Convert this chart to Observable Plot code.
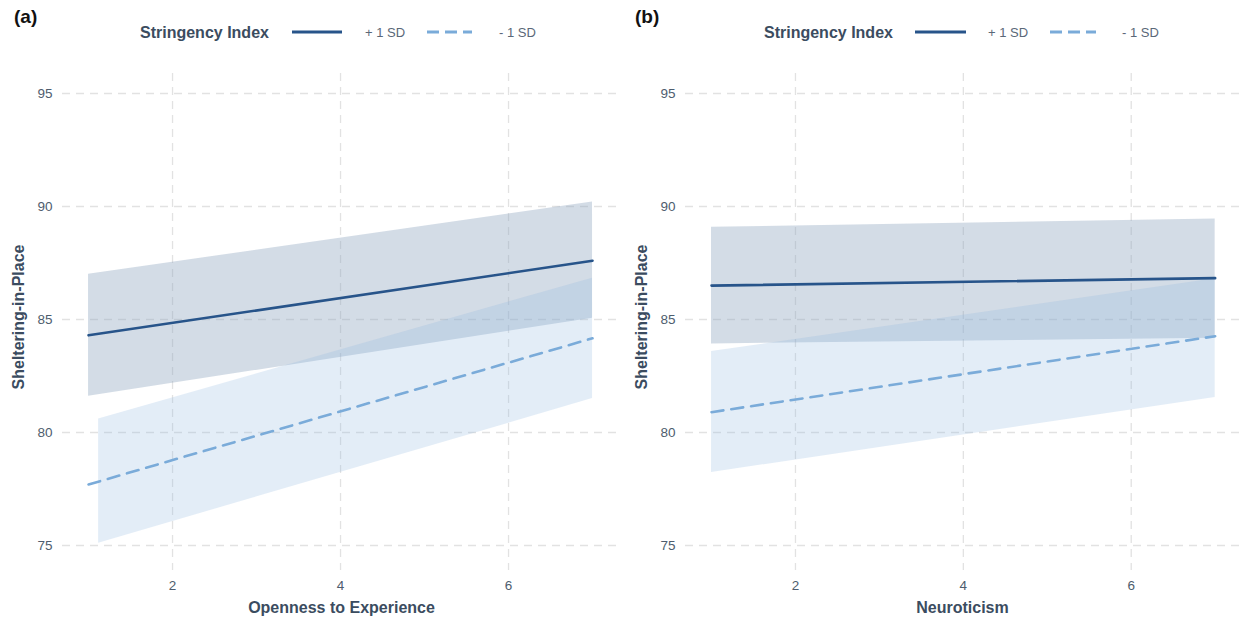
<!DOCTYPE html>
<html>
<head>
<meta charset="utf-8">
<script src="https://cdn.jsdelivr.net/npm/d3@7"></script>
<script src="https://cdn.jsdelivr.net/npm/@observablehq/plot@0.6"></script>
<style>
  html, body { margin: 0; padding: 0; background: #fff; }
  #wrap { position: relative; width: 1239px; height: 617px; font-family: "Liberation Sans", Arial, sans-serif; overflow: hidden; }
  .panel { position: absolute; top: 0; height: 617px; }
  .tag { position: absolute; left: 14px; top: 6px; font-weight: bold; font-size: 19px; color: #111; }
  .legend { position: absolute; left: 0; top: 16px; }
  .plot { position: absolute; left: 0; top: 60px; }
</style>
</head>
<body>
<div id="wrap"></div>
<script>
// ---- data ----
const panelTags = ["(a)", "(b)"];
const xTitles = ["Openness to Experience", "Neuroticism"];
const yTitle = "Sheltering-in-Place";
const legendTitle = "Stringency Index";
const seriesNames = ["+ 1 SD", "- 1 SD"];
const xTicks = [2, 4, 6];
const yTicks = [75, 80, 85, 90, 95];

// Panel (a): Openness to Experience
const aFitX = [1, 7];
const aHighFit = [84.3, 87.6];
const aLowFit = [77.7, 84.17];
const aHighBandX = [1, 7];
const aHighBandLo = [81.6, 85.05];
const aHighBandHi = [87.0, 90.2];
const aLowBandX = [1.12, 7];
const aLowBandLo = [75.1, 81.5];
const aLowBandHi = [80.6, 86.83];

// Panel (b): Neuroticism
const bFitX = [1, 7];
const bHighFit = [86.5, 86.83];
const bLowFit = [80.9, 84.26];
const bHighBandX = [1, 7];
const bHighBandLo = [83.92, 84.17];
const bHighBandHi = [89.08, 89.45];
const bLowBandX = [1, 7];
const bLowBandLo = [78.23, 81.55];
const bLowBandHi = [83.58, 86.8];

// ---- styles ----
const highColor = "#27548a";
const lowColor = "#7aabd9";
const tickColor = "#4e5d6e";
const titleColor = "#3b4c60";
const gridColor = "#e2e2e2";

function rows(x, a, b) { return x.map((v, i) => ({x: v, lo: a[i], hi: b ? b[i] : undefined})); }

function makePlot(cfg) {
  return Plot.plot({
    width: cfg.width,
    height: 557,
    marginTop: 13,
    marginBottom: 47,
    marginLeft: cfg.ml,
    marginRight: 0,
    style: {fontFamily: "'Liberation Sans', Arial, sans-serif", fontSize: "13px", color: tickColor, background: "transparent", overflow: "visible"},
    x: {domain: cfg.xdomain, label: null},
    y: {domain: [73.894, 95.885], label: null},
    marks: [
      Plot.gridX(xTicks, {stroke: gridColor, strokeOpacity: 1, strokeWidth: 1.3, strokeDasharray: "8,6"}),
      Plot.gridY(yTicks, {stroke: gridColor, strokeOpacity: 1, strokeWidth: 1.3, strokeDasharray: "8,6"}),
      Plot.areaY(rows(cfg.highBandX, cfg.highBandLo, cfg.highBandHi), {x: "x", y1: "lo", y2: "hi", fill: "#91a7c0", fillOpacity: 0.4}),
      Plot.areaY(rows(cfg.lowBandX, cfg.lowBandLo, cfg.lowBandHi), {x: "x", y1: "lo", y2: "hi", fill: "#8fb7df", fillOpacity: 0.25}),
      Plot.lineY(rows(cfg.fitX, cfg.highFit), {x: "x", y: "lo", stroke: highColor, strokeWidth: 2.6}),
      Plot.lineY(rows(cfg.fitX, cfg.lowFit), {x: "x", y: "lo", stroke: lowColor, strokeWidth: 2.6, strokeDasharray: "12,8"}),
      Plot.axisX(xTicks, {tickSize: 0, tickPadding: 10, fontSize: 13.5, fill: tickColor, label: null}),
      Plot.axisY(yTicks, {tickSize: 0, tickPadding: 10, fontSize: 13.5, fill: tickColor, label: null}),
      Plot.text([cfg.xTitle], {text: d => d, frameAnchor: "bottom", dy: 42, fontWeight: "bold", fontSize: 16, fill: titleColor}),
      Plot.text([yTitle], {text: d => d, frameAnchor: "left", textAnchor: "middle", dx: -44, dy: -5, rotate: -90, fontWeight: "bold", fontSize: 16, fill: titleColor})
    ]
  });
}

function makeLegend(width, pos) {
  const ns = "http://www.w3.org/2000/svg";
  const svg = document.createElementNS(ns, "svg");
  svg.setAttribute("width", width);
  svg.setAttribute("height", 32);
  const add = (tag, attrs, txt) => {
    const el = document.createElementNS(ns, tag);
    for (const k in attrs) el.setAttribute(k, attrs[k]);
    if (txt) el.textContent = txt;
    svg.appendChild(el);
  };
  const cy = 16;
  add("text", {x: pos.title, y: cy + 5.5, "font-size": 16, "font-weight": "bold", fill: titleColor, "font-family": "'Liberation Sans', Arial, sans-serif"}, legendTitle);
  add("line", {x1: pos.l1[0], x2: pos.l1[1], y1: cy, y2: cy, stroke: highColor, "stroke-width": 3});
  add("text", {x: pos.t1, y: cy + 4.5, "font-size": 13, fill: "#5a6878", "font-family": "'Liberation Sans', Arial, sans-serif"}, seriesNames[0]);
  add("line", {x1: pos.l2[0], x2: pos.l2[1], y1: cy, y2: cy, stroke: lowColor, "stroke-width": 3, "stroke-dasharray": "12,6"});
  add("text", {x: pos.t2, y: cy + 4.5, "font-size": 13, fill: "#5a6878", "font-family": "'Liberation Sans', Arial, sans-serif"}, seriesNames[1]);
  return svg;
}

const cfgs = [
  {left: 0, width: 620, ml: 62, xdomain: [0.69, 7.333], xTitle: xTitles[0],
   fitX: aFitX, highFit: aHighFit, lowFit: aLowFit,
   highBandX: aHighBandX, highBandLo: aHighBandLo, highBandHi: aHighBandHi,
   lowBandX: aLowBandX, lowBandLo: aLowBandLo, lowBandHi: aLowBandHi,
   legend: {title: 140, l1: [292, 342], t1: 365, l2: [427, 472], t2: 499}},
  {left: 621, width: 618, ml: 64, xdomain: [0.69, 7.29], xTitle: xTitles[1],
   fitX: bFitX, highFit: bHighFit, lowFit: bLowFit,
   highBandX: bHighBandX, highBandLo: bHighBandLo, highBandHi: bHighBandHi,
   lowBandX: bLowBandX, lowBandLo: bLowBandLo, lowBandHi: bLowBandHi,
   legend: {title: 143, l1: [294, 345], t1: 367, l2: [429, 475], t2: 501}}
];

const wrap = document.getElementById("wrap");
cfgs.forEach((cfg, i) => {
  const p = document.createElement("div");
  p.className = "panel";
  p.style.left = cfg.left + "px";
  p.style.width = cfg.width + "px";
  const tag = document.createElement("div");
  tag.className = "tag";
  tag.textContent = panelTags[i];
  p.appendChild(tag);
  const lg = document.createElement("div");
  lg.className = "legend";
  lg.appendChild(makeLegend(cfg.width, cfg.legend));
  p.appendChild(lg);
  const pl = document.createElement("div");
  pl.className = "plot";
  pl.appendChild(makePlot(cfg));
  p.appendChild(pl);
  wrap.appendChild(p);
});
</script>
</body>
</html>
